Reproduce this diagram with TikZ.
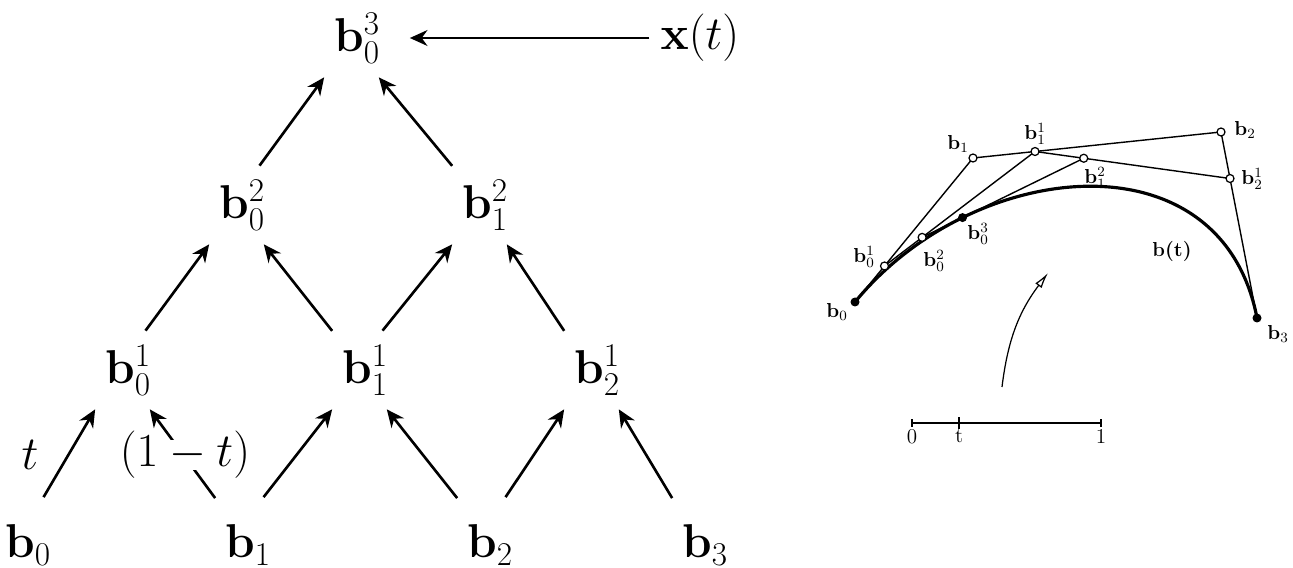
\documentclass[tikz,border=0pt]{standalone}
\usepackage{fix-cm}
\usepackage{amsmath,amssymb}
\usepackage{tikz}
\usetikzlibrary{arrows.meta,positioning,calc}

\begin{document}
\begin{tikzpicture}[
  pt/.style={rectangle, minimum width=1.3cm, minimum height=1.56cm, inner sep=0pt, font=\fontsize{27}{32}\selectfont},
  ctrl/.style={pt, minimum height=1.9cm},
  wlabel/.style={inner sep=0pt, font=\fontsize{27}{32}\selectfont},
  ptr/.style={-{Stealth[length=10pt,width=9pt]}, line width=1.5pt},
  poly/.style={line width=0.8pt},
  curve/.style={line width=1.8pt},
  opendot/.style={circle, draw, fill=white, line width=0.7pt, minimum size=0.16cm, inner sep=0pt},
  fulldot/.style={circle, fill=black, minimum size=0.18cm, inner sep=0pt},
  lbl/.style={inner sep=0pt, font=\fontsize{11.5}{13}\selectfont},
  param/.style={-{Latex[open,length=9pt,width=4.5pt]}, line width=0.7pt}
]
\useasboundingbox (0,0) rectangle (25.86,11.34);

% Level 0 - control points
\node[ctrl] (b0) at (0.56,0.44) {$\mathbf{b}_0$};
\node[ctrl] (b1) at (4.96,0.44) {$\mathbf{b}_1$};
\node[ctrl] (b2) at (9.8,0.44) {$\mathbf{b}_2$};
\node[ctrl] (b3) at (14.1,0.44) {$\mathbf{b}_3$};

% Level 1
\node[pt] (b01) at (2.56,3.94) {$\mathbf{b}_0^1$};
\node[pt] (b11) at (7.3,3.94) {$\mathbf{b}_1^1$};
\node[pt] (b21) at (11.94,3.94) {$\mathbf{b}_2^1$};

% Level 2
\node[pt] (b02) at (4.84,7.24) {$\mathbf{b}_0^2$};
\node[pt] (b12) at (9.7,7.24) {$\mathbf{b}_1^2$};

% Level 3 and curve point
\node[pt] (b03) at (7.14,10.58) {$\mathbf{b}_0^3$};
\node[pt] (xt) at (14.0,10.58) {$\mathbf{x}(t)$};

% Level 0 to level 1
\draw[ptr] (b0.72) -- (b01.south west);
\draw[ptr] (b1.125) -- (b01.-61);
\draw[ptr] (b1.72) -- (b11.south west);
\draw[ptr] (b2.125) -- (b11.-61);
\draw[ptr] (b2.72) -- (b21.south west);
\draw[ptr] (b3.125) -- (b21.-61);

% Level 1 to level 2
\draw[ptr] (b01.66) -- (b02.south west);
\draw[ptr] (b11.130) -- (b02.-61);
\draw[ptr] (b11.66) -- (b12.south west);
\draw[ptr] (b21.130) -- (b12.-61);

% Level 2 to level 3
\draw[ptr] (b02.66) -- (b03.south west);
\draw[ptr] (b12.130) -- (b03.-61);
\draw[ptr, shorten <=0.22cm, shorten >=0.4cm] (xt.west) -- (b03.east);

% Weights
\node[wlabel] (wt) at (0.6,2.24) {$t$};
\node[wlabel, fill=white, inner ysep=-5pt] (w1t) at (3.7,2.24) {$(1-t)$};

% Right: geometric construction (t = 1/4)
\coordinate (c0) at (17.1,5.3);
\coordinate (c1) at (19.46,8.18);
\coordinate (c2) at (24.42,8.7);
\coordinate (c3) at (25.14,4.98);
\coordinate (c01) at ($(c0)!0.25!(c1)$);
\coordinate (c11) at ($(c1)!0.25!(c2)$);
\coordinate (c21) at ($(c2)!0.25!(c3)$);
\coordinate (c02) at ($(c01)!0.25!(c11)$);
\coordinate (c12) at ($(c11)!0.25!(c21)$);
\coordinate (c03) at ($(c02)!0.25!(c12)$);

\draw[poly] (c0) -- (c1) -- (c2) -- (c3);
\draw[poly] (c01) -- (c11) -- (c21);
\draw[poly] (c02) -- (c12);
\draw[curve] (c0) .. controls (c1) and (c2) .. (c3);

\node[fulldot] (p0) at (c0) {};
\node[fulldot] (p3) at (c3) {};
\node[fulldot] (p03) at (c03) {};
\foreach \p in {c1,c2,c01,c11,c21,c02,c12}
  \node[opendot] at (\p) {};

\node[lbl] (l0) at (16.74,5.1) {$\mathbf{b}_0$};
\node[lbl] (l1) at (19.16,8.46) {$\mathbf{b}_1$};
\node[lbl] (l2) at (24.9,8.74) {$\mathbf{b}_2$};
\node[lbl] (l3) at (25.56,4.66) {$\mathbf{b}_3$};
\node[lbl] (l01) at (17.28,6.2) {$\mathbf{b}_0^1$};
\node[lbl] (l11) at (20.7,8.66) {$\mathbf{b}_1^1$};
\node[lbl] (l21) at (25.04,7.76) {$\mathbf{b}_2^1$};
\node[lbl] (l02) at (18.68,6.12) {$\mathbf{b}_0^2$};
\node[lbl] (l12) at (21.9,7.78) {$\mathbf{b}_1^2$};
\node[lbl] (l03) at (19.56,6.66) {$\mathbf{b}_0^3$};
\node[lbl] (lbt) at (23.44,6.32) {\textbf{b(t)}};

% Parameter axis
\coordinate (ax0) at (18.24,2.88);
\coordinate (ax1) at (22.02,2.88);
\coordinate (axt) at ($(ax0)!0.25!(ax1)$);
\draw[poly] (ax0) -- (ax1);
\draw[poly] ($(ax0)+(0,-0.08)$) -- ($(ax0)+(0,0.08)$);
\draw[poly] ($(ax1)+(0,-0.08)$) -- ($(ax1)+(0,0.08)$);
\draw[line width=1.1pt] ($(axt)+(0,-0.12)$) -- ($(axt)+(0,0.12)$);
\node[lbl, font=\fontsize{12}{14}\selectfont, below=0.12cm of ax0] (n0) {0};
\node[lbl, font=\fontsize{12}{14}\selectfont, below=0.12cm of axt] (nt) {t};
\node[lbl, font=\fontsize{12}{14}\selectfont, below=0.12cm of ax1] (n1) {1};

% Mapping t to the curve
\coordinate (m0) at (20.04,3.6);
\coordinate (m1) at (20.96,5.88);
\draw[param] (m0) to[bend left=15] (m1);
\end{tikzpicture}
\end{document}
